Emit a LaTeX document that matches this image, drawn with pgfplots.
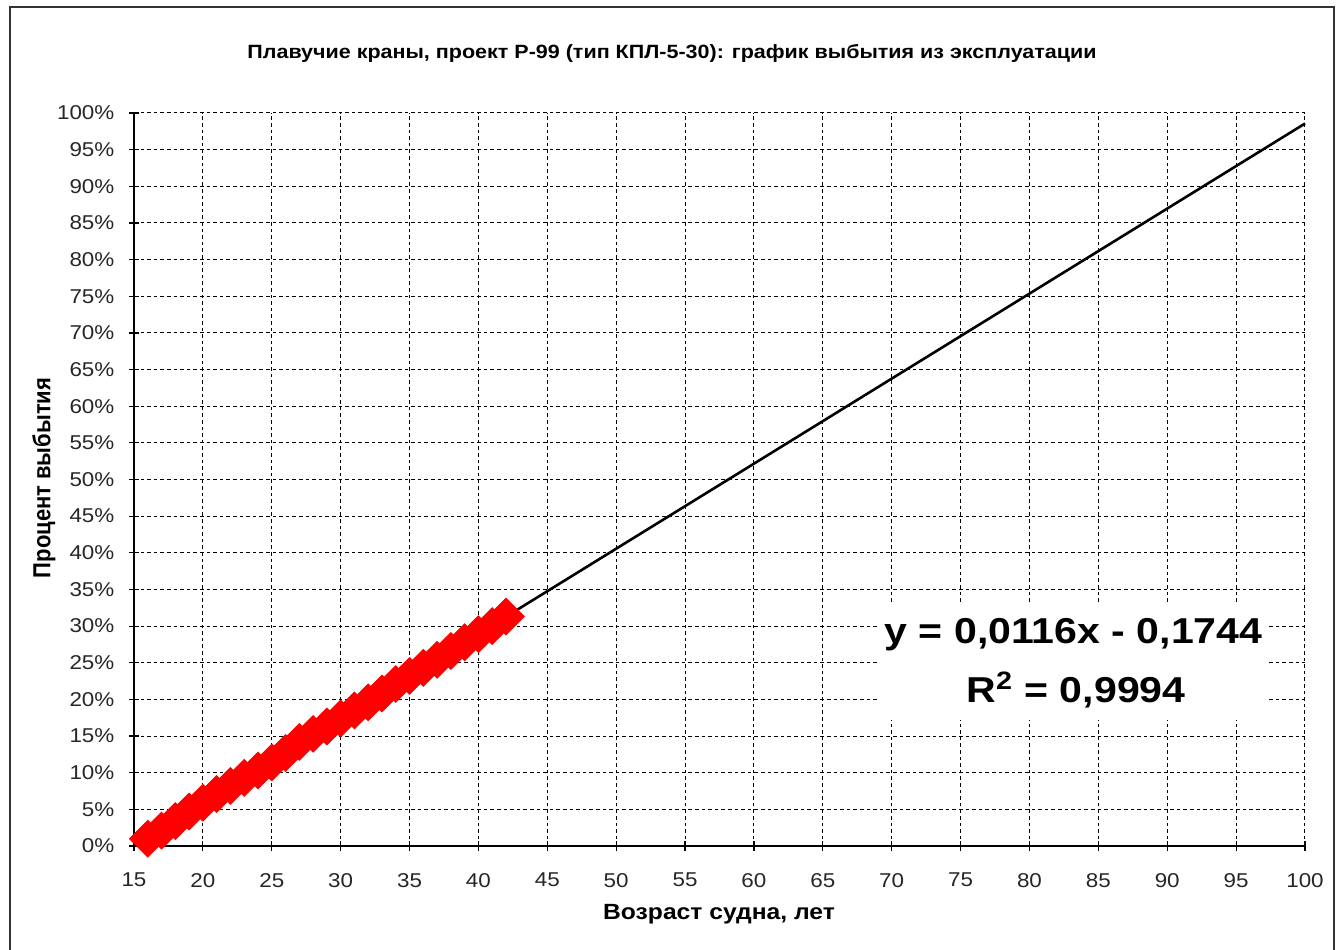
\documentclass[border=0pt]{standalone}
\usepackage{pgfplots}
\pgfplotsset{compat=1.18}
\usepackage{fontspec}
\setmainfont{Liberation Sans}
\begin{document}
\begin{tikzpicture}
\path[use as bounding box] (0,0) rectangle (671.5pt,474.5pt);
\draw[line width=0.8pt, black!80] (5pt,-2pt) rectangle (667pt,471pt);
\begin{axis}[
    at={(67pt,51.5pt)}, anchor=south west,
    width=585.5pt, height=366.5pt, scale only axis,
    xmin=15, xmax=100, ymin=0, ymax=100,
    xtick={15,20,...,100},
    ytick={0,5,...,100},
    yticklabel={\pgfmathprintnumber{\tick}\%},
    /pgf/number format/assume math mode=true,
    axis x line=bottom, axis y line=left,
    axis line style={-, line width=0.8pt},
    tick align=center, major tick length=5pt,
    tick style={black, line width=0.6pt},
    grid=major,
    major grid style={black, line width=0.5pt, dash pattern=on 1.8pt off 1.5pt},
    ticklabel style={font=\fontsize{10}{12}\selectfont, text=black!85, xscale=1.12},
    xticklabel style={yshift=-7.5pt},
    yticklabel style={xshift=-3pt},
    clip=false,
]
% observed data (percent)
\addplot[only marks, mark=square*, mark size=6.5pt,
    mark options={rotate=45, fill=red, draw=red}]
    coordinates {
    (16,1.0)(17,2.1)(18,3.4)(19,4.7)(20,5.9)(21,7.1)(22,8.2)(23,9.3)
    (24,10.3)(25,11.4)(26,12.7)(27,14.2)(28,15.3)(29,16.3)(30,17.4)
    (31,18.5)(32,19.6)(33,20.8)(34,22.1)(35,23.2)(36,24.3)(37,25.4)
    (38,26.6)(39,27.8)(40,28.9)(41,30.0)(42,31.3)
    };
% linear trend
\addplot[black, line width=1.3pt] coordinates {(16,1.12)(100,98.56)};
\end{axis}
\node[font=\bfseries\fontsize{9.6}{12}\selectfont, xscale=1.12] at (336pt,448pt)
    {Плавучие краны, проект Р-99 (тип КПЛ-5-30): график выбытия из эксплуатации};
\node[font=\bfseries\fontsize{11}{13}\selectfont, xscale=1.12] at (359.5pt,17.5pt) {Возраст судна, лет};
\node[font=\bfseries\fontsize{11}{13}\selectfont, rotate=90, yscale=1.12] at (22pt,235.5pt) {Процент выбытия};
\fill[white] (440pt,172pt) rectangle (634pt,114.5pt);
\node[font=\bfseries\fontsize{18}{22}\selectfont, xscale=1.14, anchor=base] at (536.75pt,153pt) {y = 0,0116x - 0,1744};
\node[font=\bfseries\fontsize{18}{22}\selectfont, xscale=1.14, anchor=base] at (538pt,123.5pt) {R\textsuperscript{2} = 0,9994};
\end{tikzpicture}
\end{document}
